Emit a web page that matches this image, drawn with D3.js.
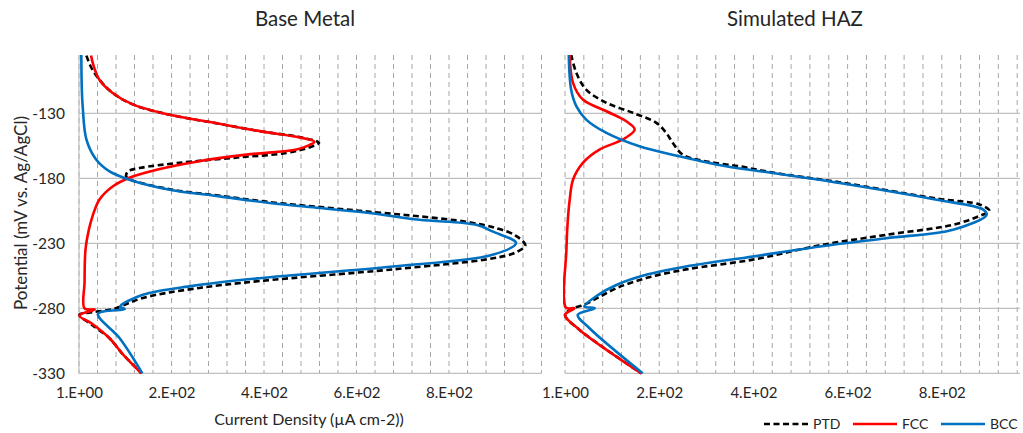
<!DOCTYPE html>
<html>
<head>
<meta charset="utf-8">
<script src="https://cdn.jsdelivr.net/npm/d3@7"></script>
<style>
  body { margin: 0; background: #fff; }
  text { font-family: Lato, "Open Sans", sans-serif; fill: #262626; }
</style>
</head>
<body>
<div id="chart"></div>
<script>
const width = 1023;
const height = 433;

// potential ticks (mV) and current-density ticks (uA cm-2)
const yTicks = [-330, -280, -230, -180, -130];
const xTicks = [1, 201, 401, 601, 801];
const xTickLabels = ["1.E+00", "2.E+02", "4.E+02", "6.E+02", "8.E+02"];
const seriesNames = ["PTD", "FCC", "BCC"];
const panelTitles = ["Base Metal", "Simulated HAZ"];

// Base metal: [potential, current]
const basePTD = [[-85.5, 17], [-95, 28], [-104, 45], [-114, 73], [-123, 117], [-131, 197], [-137, 290],
  [-144, 398], [-148, 475], [-152.7, 520], [-156, 500], [-160.4, 449], [-164, 340], [-168, 218],
  [-172, 132], [-174.6, 107], [-178.4, 103], [-181, 113], [-188.5, 200], [-193.5, 310], [-198.5, 420],
  [-202.3, 530], [-206, 640], [-209.3, 740], [-213.5, 840], [-218.5, 905], [-224, 945], [-231.5, 966],
  [-237, 945], [-241.5, 896], [-250, 680], [-259, 391], [-265, 247], [-272, 139], [-280.5, 75],
  [-283, 30], [-285, 2], [-293, 30], [-303, 67], [-315, 95], [-330, 136]];
const baseFCC = [[-85.4, 27], [-95, 34], [-104, 45], [-114, 73], [-123, 117], [-131, 197], [-137, 290],
  [-144, 398], [-148, 471], [-151.7, 510], [-155, 495], [-157.8, 471], [-161.7, 363], [-167.1, 255],
  [-173.3, 169], [-179.5, 110], [-186.4, 73], [-196.4, 45], [-209.4, 30], [-220, 22], [-235, 15],
  [-260, 13], [-280, 13], [-281, 35], [-285.5, 2], [-292, 30], [-303, 67], [-315, 95], [-330, 136]];
const baseBCC = [[-84.6, 6], [-110, 7], [-124.7, 9], [-150, 17], [-165.5, 38], [-174.6, 67], [-181, 110],
  [-188.7, 197], [-193.8, 305], [-198.9, 413], [-202.8, 521], [-206.6, 629], [-211.8, 737],
  [-215.7, 860], [-220.8, 895], [-229.8, 946], [-238.8, 895], [-247.8, 680], [-256.8, 391],
  [-262.7, 247], [-269.6, 139], [-278.7, 90], [-280.5, 100], [-284.3, 42],
  [-303, 89], [-330, 138]];

// Simulated HAZ: [potential, current]
const hazPTD = [[-84.6, 14], [-98.7, 25], [-111.6, 46], [-121.8, 89], [-129.5, 145], [-137.2, 195],
  [-145, 216], [-152.7, 230], [-161.7, 251], [-166.9, 301], [-170.7, 372], [-175.5, 442], [-183, 584],
  [-195.5, 790], [-200.2, 882], [-205, 902], [-209, 880], [-215.7, 825], [-223.4, 683], [-231.5, 542],
  [-242.5, 400], [-250, 258], [-256.5, 175], [-264.5, 110], [-272, 70], [-277.5, 40], [-280, 18],
  [-285, 1], [-296.6, 32], [-330, 163]];
const hazFCC = [[-84.6, 11], [-106.4, 18], [-119.3, 39], [-128.3, 89], [-136, 131], [-142.4, 149],
  [-150, 124], [-157.8, 74], [-168, 39], [-181, 18], [-196.4, 11], [-211.8, 7], [-235, 4],
  [-279.4, 3], [-279.9, 21], [-285, 1], [-296.6, 32], [-330, 163]];
const hazBCC = [[-84.6, 9], [-111.6, 14], [-124.4, 25], [-134.7, 46], [-145, 89], [-155.3, 159],
  [-163, 244], [-170.7, 343], [-175.8, 442], [-183.5, 584], [-196.4, 790], [-204, 889], [-208, 896],
  [-219.5, 825], [-226, 683], [-232.4, 542], [-240.1, 400], [-247.8, 258], [-254, 175], [-262, 110],
  [-270, 70], [-278.6, 42], [-279.9, 64], [-285, 28], [-295.3, 53], [-330, 166]];

const colors = { PTD: "#000000", FCC: "#ff0000", BCC: "#0070c0" };

const svg = d3.select("#chart").append("svg")
  .attr("width", width)
  .attr("height", height);

const plotTop = 55, plotBottom = 373.3;

const y = d3.scaleLinear().domain([-330, -85]).range([plotBottom, plotTop]);

const panels = [
  { x: d3.scaleLinear().domain([1, 1001]).range([79, 541.5]), data: [basePTD, baseFCC, baseBCC], title: panelTitles[0], yLabels: true },
  { x: d3.scaleLinear().domain([1, 1001]).range([565, 1036]), data: [hazPTD, hazFCC, hazBCC], title: panelTitles[1], yLabels: false }
];

const drawPanel = (p, i) => {
  const g = svg.append("g");
  const [x0, x1] = p.x.range();
  const right = Math.min(x1, width - 3);

  g.append("clipPath").attr("id", "clip" + i)
    .append("rect").attr("x", x0 - 2).attr("y", plotTop).attr("width", right - x0 + 4).attr("height", plotBottom - plotTop + 2);

  // minor vertical dashed grid every 40 units
  g.selectAll(".vgrid").data(d3.range(1, 1002, 40).filter(v => p.x(v) <= right))
    .join("line")
    .attr("x1", d => p.x(d)).attr("x2", d => p.x(d))
    .attr("y1", plotTop).attr("y2", plotBottom)
    .attr("stroke", "#a6a6a6").attr("stroke-width", 1).attr("stroke-dasharray", "5,4");

  // horizontal grid
  g.selectAll(".hgrid").data(yTicks)
    .join("line")
    .attr("x1", x0).attr("x2", right)
    .attr("y1", d => y(d)).attr("y2", d => y(d))
    .attr("stroke", "#bfbfbf").attr("stroke-width", 1.2);

  if (p.yLabels) {
    g.append("line").attr("x1", x0).attr("x2", x0).attr("y1", plotTop).attr("y2", plotBottom)
      .attr("stroke", "#bfbfbf").attr("stroke-width", 1.2);
    const yAxis = d3.axisLeft(y).tickValues(yTicks).tickSize(0).tickPadding(14).tickFormat(d => String(d));
    g.append("g").attr("transform", `translate(${x0},0)`).call(yAxis)
      .call(a => a.select(".domain").remove())
      .selectAll("text").style("font-size", "15.5px").style("font-family", "Lato, sans-serif").attr("fill", "#262626");
  }

  const xAxis = d3.axisBottom(p.x).tickValues(xTicks).tickSize(0).tickPadding(14)
    .tickFormat((d, k) => xTickLabels[k]);
  g.append("g").attr("transform", `translate(0,${plotBottom})`).call(xAxis)
    .call(a => a.select(".domain").remove())
    .selectAll("text").style("font-size", "15px").style("font-family", "Lato, sans-serif").attr("fill", "#262626");

  const line = d3.line()
    .x(d => p.x(d[1]))
    .y(d => y(d[0]))
    .curve(d3.curveCatmullRom.alpha(0.5));

  p.data.forEach((series, k) => {
    const name = seriesNames[k];
    g.append("path")
      .attr("clip-path", `url(#clip${i})`)
      .attr("d", line(series))
      .attr("fill", "none")
      .attr("stroke", colors[name])
      .attr("stroke-width", 2.6)
      .attr("stroke-linejoin", "round")
      .attr("stroke-dasharray", name === "PTD" ? "6,3.5" : null);
  });

  svg.append("text")
    .attr("x", i === 0 ? 305 : 795).attr("y", 26)
    .attr("text-anchor", "middle")
    .style("font-size", "20.5px")
    .text(p.title);
};

panels.forEach(drawPanel);

svg.append("text")
  .attr("transform", "translate(27,213) rotate(-90)")
  .attr("text-anchor", "middle")
  .style("font-size", "17px")
  .text("Potential (mV vs. Ag/AgCl)");

svg.append("text")
  .attr("x", 309).attr("y", 425)
  .attr("text-anchor", "middle")
  .style("font-size", "16px")
  .text("Current Density (\u00b5A cm-2))");

// legend
const legendX = [764, 853, 941];
const legend = svg.append("g");
seriesNames.forEach((name, k) => {
  legend.append("line")
    .attr("x1", legendX[k]).attr("x2", legendX[k] + 44)
    .attr("y1", 424).attr("y2", 424)
    .attr("stroke", colors[name]).attr("stroke-width", 2.6)
    .attr("stroke-dasharray", name === "PTD" ? "6,3.5" : null);
  legend.append("text")
    .attr("x", legendX[k] + 49).attr("y", 429)
    .style("font-size", "14px")
    .text(name);
});
</script>
</body>
</html>
